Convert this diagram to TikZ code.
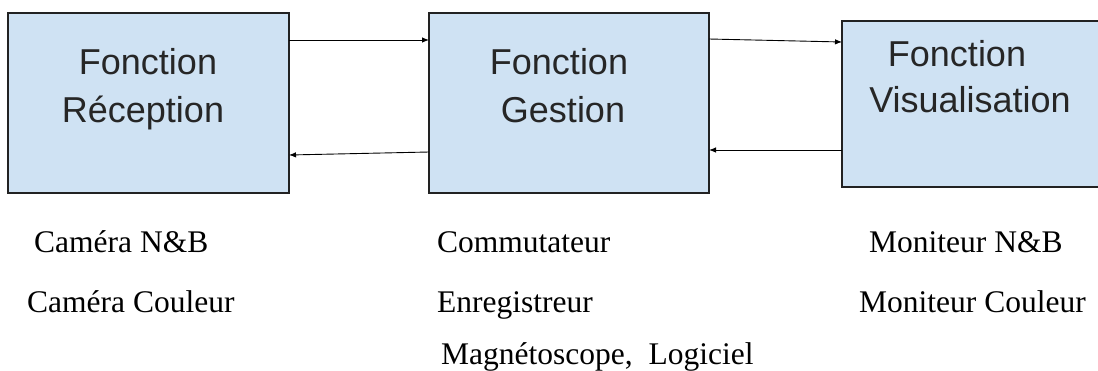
\documentclass[tikz,border=0pt]{standalone}
\usepackage{fontspec}
\setmainfont{Liberation Serif}
\newfontfamily\boxfont{Liberation Sans}
\usetikzlibrary{arrows.meta}
\definecolor{boxblue}{HTML}{CFE2F3}
\definecolor{boxline}{HTML}{222222}
\tikzset{
  fbox/.style={draw=boxline, fill=boxblue, line width=1.3pt, rectangle, inner sep=0pt, outer sep=0pt},
  boxtxt/.style={anchor=base, inner sep=0pt, text=black!85, font=\boxfont\fontsize{36}{43}\selectfont},
  subtxt/.style={anchor=base west, inner sep=0pt, font=\fontsize{31.5}{38}\selectfont},
  flow/.style={line width=0.9pt, -{Latex[length=7pt,width=5.5pt]}}
}
\begin{document}
\begin{tikzpicture}[x=1pt,y=-1pt]
\useasboundingbox (0,0) rectangle (1098,370);
% boxes
\node[fbox, minimum width=281pt, minimum height=180pt] (b1) at (148.5,103) {};
\node[fbox, minimum width=280pt, minimum height=180pt] (b2) at (569,103) {};
\node[fbox, minimum width=273pt, minimum height=166pt] (b3) at (978.5,104) {};
% box texts
\node[boxtxt] (t1a) at (148,74) {Fonction};
\node[boxtxt] (t1b) at (143,122) {Réception};
\node[boxtxt] (t2a) at (559,74) {Fonction};
\node[boxtxt] (t2b) at (563,122) {Gestion};
\node[boxtxt] (t3a) at (957,66) {Fonction};
\node[boxtxt] (t3b) at (970,112) {Visualisation};
% connectors
\draw[flow] (b1.east |- 0,40) -- (b2.west |- 0,40);
\draw[flow] (b2.west |- 0,152) -- (b1.east |- 0,155);
\draw[flow] (b2.east |- 0,39) -- (b3.west |- 0,42);
\draw[flow] (b3.west |- 0,150) -- (b2.east |- 0,150);
% lists below
\node[subtxt] (l1a) at (34,252) {Caméra N\&B};
\node[subtxt] (l1b) at (27,312) {Caméra Couleur};
\node[subtxt] (l2a) at (437,252) {Commutateur};
\node[subtxt] (l2b) at (437,312) {Enregistreur};
\node[subtxt] (l2c) at (441,364) {Magnétoscope,\ \ Logiciel};
\node[subtxt] (l3a) at (869,252) {Moniteur N\&B};
\node[subtxt] (l3b) at (859,312) {Moniteur Couleur};
\end{tikzpicture}
\end{document}
